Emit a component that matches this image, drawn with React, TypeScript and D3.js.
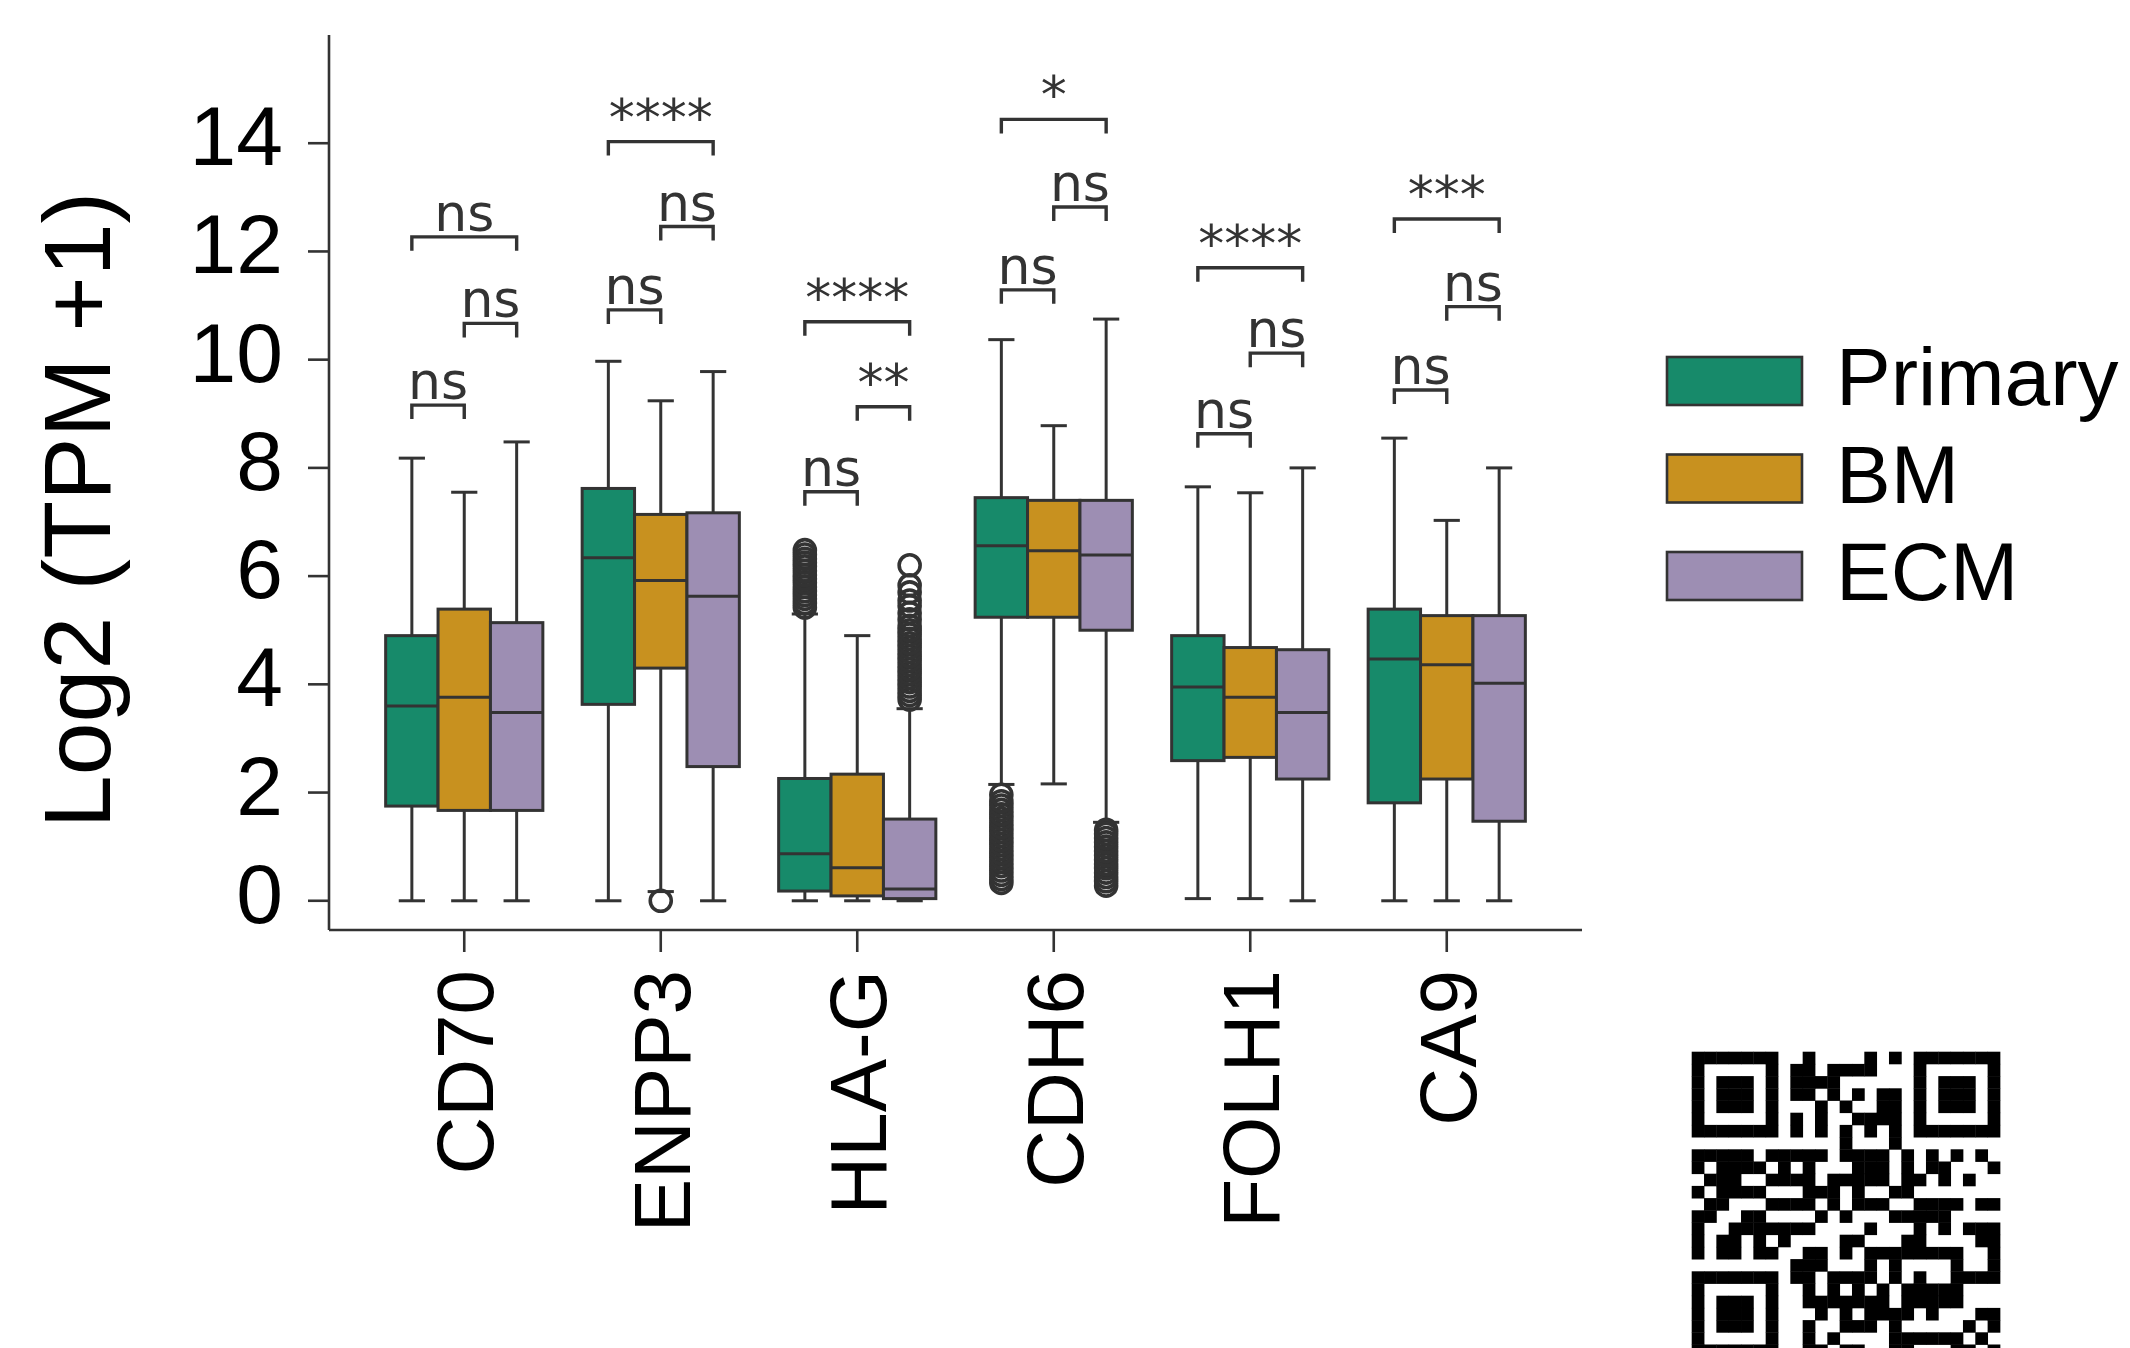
import React from "react";
import * as d3 from "d3";

const categories = ["CD70", "ENPP3", "HLA-G", "CDH6", "FOLH1", "CA9"];
const groups = ["Primary", "BM", "ECM"];
const groupColors = ["#178A6A", "#C8911F", "#9D8EB3"];

// [whisker low, Q1, median, Q3, whisker high] per category
const primaryStats = [
  [0, 1.75, 3.6, 4.9, 8.18],
  [0, 3.63, 6.34, 7.62, 9.97],
  [0, 0.18, 0.87, 2.26, 5.3],
  [2.15, 5.24, 6.56, 7.45, 10.37],
  [0.04, 2.59, 3.95, 4.9, 7.65],
  [0, 1.81, 4.47, 5.39, 8.55],
];
const bmStats = [
  [0, 1.67, 3.76, 5.39, 7.55],
  [0.17, 4.3, 5.92, 7.14, 9.24],
  [0, 0.09, 0.61, 2.34, 4.9],
  [2.16, 5.24, 6.47, 7.4, 8.78],
  [0.04, 2.65, 3.76, 4.68, 7.54],
  [0, 2.25, 4.36, 5.27, 7.03],
];
const ecmStats = [
  [0, 1.67, 3.48, 5.14, 8.48],
  [0, 2.48, 5.63, 7.17, 9.78],
  [0, 0.04, 0.22, 1.51, 3.55],
  [1.45, 5.0, 6.39, 7.4, 10.75],
  [0, 2.25, 3.48, 4.64, 8.0],
  [0, 1.47, 4.02, 5.27, 8.0],
];

// outliers: category, group, values
const outlierEnpp3Bm = [0];
const outlierHlagPrimary = [5.42, 5.5, 5.58, 5.65, 5.72, 5.8, 5.88, 5.95, 6.02, 6.1, 6.18, 6.25, 6.32, 6.4, 6.48];
const outlierHlagEcm = [3.72, 3.8, 3.88, 3.96, 4.04, 4.12, 4.2, 4.28, 4.36, 4.44, 4.52, 4.6, 4.68, 4.76, 4.84, 4.92, 5.0, 5.08, 5.2, 5.32, 5.45, 5.55, 5.7, 5.83, 6.2];
const outlierCdh6Primary = [0.33, 0.4, 0.48, 0.56, 0.64, 0.72, 0.8, 0.88, 0.96, 1.04, 1.12, 1.2, 1.28, 1.36, 1.44, 1.52, 1.6, 1.68, 1.76, 1.84, 1.96];
const outlierCdh6Ecm = [0.28, 0.36, 0.44, 0.52, 0.6, 0.68, 0.76, 0.84, 0.92, 1.0, 1.08, 1.16, 1.24, 1.31];
const outlierSets = [
  { cat: "ENPP3", group: "BM", values: outlierEnpp3Bm },
  { cat: "HLA-G", group: "Primary", values: outlierHlagPrimary },
  { cat: "HLA-G", group: "ECM", values: outlierHlagEcm },
  { cat: "CDH6", group: "Primary", values: outlierCdh6Primary },
  { cat: "CDH6", group: "ECM", values: outlierCdh6Ecm },
];

// significance brackets
const annCats = ["CD70", "CD70", "CD70", "ENPP3", "ENPP3", "ENPP3", "HLA-G", "HLA-G", "HLA-G", "CDH6", "CDH6", "CDH6", "FOLH1", "FOLH1", "FOLH1", "CA9", "CA9", "CA9"];
const annPairs = [
  ["Primary", "BM"], ["BM", "ECM"], ["Primary", "ECM"],
  ["Primary", "BM"], ["BM", "ECM"], ["Primary", "ECM"],
  ["Primary", "BM"], ["BM", "ECM"], ["Primary", "ECM"],
  ["Primary", "BM"], ["BM", "ECM"], ["Primary", "ECM"],
  ["Primary", "BM"], ["BM", "ECM"], ["Primary", "ECM"],
  ["Primary", "BM"], ["BM", "ECM"], ["Primary", "ECM"],
];
const annHeights = [9.16, 10.67, 12.27, 10.92, 12.46, 14.03, 7.56, 9.13, 10.7, 11.29, 12.82, 14.44, 8.63, 10.12, 11.7, 9.44, 10.98, 12.6];
const annLabels = ["ns", "ns", "ns", "ns", "ns", "****", "ns", "**", "****", "ns", "ns", "*", "ns", "ns", "****", "ns", "ns", "***"];

const yTicks = [0, 2, 4, 6, 8, 10, 12, 14];

// decorative QR code (25 x 25 modules, bottom row cut off by the page)
const qrRows = [
  "1111111001000010101111111",
  "1000001011011110001000001",
  "1011101011110000001011101",
  "1011101011010101101011101",
  "1011101000101001101011101",
  "1000001010100111101000001",
  "1111111010101010101111111",
  "0000000000001000100000000",
  "1111101111101111010101010",
  "1011110101000111010110001",
  "0111001111011111011010100",
  "1011110001110100110000000",
  "0110001111010111001111011",
  "1100110000101000111110000",
  "1001111111000010001010111",
  "1011010100001100011000011",
  "1011011001101011111111001",
  "0000000011100010100001001",
  "1111111011011110101001111",
  "1000001001010101011111000",
  "1011101001111111011111000",
  "1011101000101011110100011",
  "1011101001001110100000101",
  "1000001001010000111111010",
  "1111111001101100110001101",
];

const INK = "#333333";
const SANS = "'Liberation Sans', Arial, sans-serif";
const DEJAVU = "'DejaVu Sans', sans-serif";

export default function App() {
  const W = 2130;
  const H = 1348;
  const x = d3.scaleBand<string>().domain(categories).range([366, 1545]).paddingInner(0).paddingOuter(0);
  const bw = x.bandwidth();
  const hue = d3.scaleBand<string>().domain(groups).range([-0.4 * bw, 0.4 * bw]).padding(0);
  const hw = hue.bandwidth();
  const y = d3.scaleLinear().domain([-0.54, 16]).range([930, 35]);
  const statsByGroup = [primaryStats, bmStats, ecmStats];
  const cx = (cat: string, g: string) => (x(cat) as number) + bw / 2 + (hue(g) as number) + hw / 2;

  const qrModW = 12.33;
  const qrModH = 12.2;
  const qrX = d3.scaleLinear().domain([0, 25]).range([1691.7, 1691.7 + 25 * qrModW]);
  const qrY = d3.scaleLinear().domain([0, 25]).range([1051.7, 1051.7 + 25 * qrModH]);

  return (
    <svg width={W} height={H} style={{ position: "absolute", left: 0, top: 0, display: "block", background: "#fff" }}>
      <rect x={0} y={0} width={W} height={H} fill="#fff" />
      {/* boxes */}
      {groups.map((g, gi) =>
        categories.map((cat, ci) => {
          const [lo, q1, med, q3, hi] = statsByGroup[gi][ci];
          const c = cx(cat, g);
          const left = c - hw / 2;
          return (
            <g key={g + cat}>
              <line x1={c} x2={c} y1={y(q3)} y2={y(hi)} stroke={INK} strokeWidth={3} />
              <line x1={c} x2={c} y1={y(q1)} y2={y(lo)} stroke={INK} strokeWidth={3} />
              <line x1={c - hw / 4} x2={c + hw / 4} y1={y(hi)} y2={y(hi)} stroke={INK} strokeWidth={3} />
              <line x1={c - hw / 4} x2={c + hw / 4} y1={y(lo)} y2={y(lo)} stroke={INK} strokeWidth={3} />
              <rect x={left} y={y(q3)} width={hw} height={y(q1) - y(q3)} fill={groupColors[gi]} stroke={INK} strokeWidth={3} />
              <line x1={left} x2={left + hw} y1={y(med)} y2={y(med)} stroke={INK} strokeWidth={3} />
            </g>
          );
        })
      )}
      {/* outliers */}
      {outlierSets.map((s) =>
        s.values.map((v, i) => (
          <circle key={s.cat + s.group + i} cx={cx(s.cat, s.group)} cy={y(v)} r={10.5} fill="none" stroke={INK} strokeWidth={3.6} />
        ))
      )}
      {/* axes */}
      <line x1={329} x2={329} y1={y(16)} y2={y(-0.54)} stroke={INK} strokeWidth={2.6} />
      <line x1={329} x2={1582} y1={y(-0.54)} y2={y(-0.54)} stroke={INK} strokeWidth={2.6} />
      {yTicks.map((t) => (
        <g key={t}>
          <line x1={308} x2={329} y1={y(t)} y2={y(t)} stroke={INK} strokeWidth={2.6} />
          <text x={283} y={y(t) + 22} textAnchor="end" fontFamily={SANS} fontSize={84} fill="#000">
            {t}
          </text>
        </g>
      ))}
      {categories.map((cat) => {
        const c = (x(cat) as number) + bw / 2;
        return (
          <g key={cat}>
            <line x1={c} x2={c} y1={930} y2={952} stroke={INK} strokeWidth={2.6} />
            <text transform={`translate(${c},970) rotate(-90)`} dy={29} textAnchor="end" fontFamily={SANS} fontSize={80} fill="#000">
              {cat}
            </text>
          </g>
        );
      })}
      <text transform="translate(110,510) rotate(-90)" textAnchor="middle" fontFamily={SANS} fontSize={95} fill="#000">
        Log2 (TPM +1)
      </text>
      {/* annotations */}
      {annCats.map((cat, i) => {
        const x1 = cx(cat, annPairs[i][0]);
        const x2 = cx(cat, annPairs[i][1]);
        const yy = y(annHeights[i]);
        return (
          <g key={"ann" + i}>
            <path d={`M${x1},${yy + 14}L${x1},${yy}L${x2},${yy}L${x2},${yy + 14}`} fill="none" stroke={INK} strokeWidth={3.4} />
            <text x={(x1 + x2) / 2} y={yy - 6} textAnchor="middle" fontFamily={DEJAVU} fontSize={52} fill={INK}>
              {annLabels[i]}
            </text>
          </g>
        );
      })}
      {/* legend */}
      {groups.map((g, i) => (
        <g key={"leg" + g} transform={`translate(0,${i * 97.5})`}>
          <rect x={1667} y={357} width={135} height={48} fill={groupColors[i]} stroke={INK} strokeWidth={2.6} />
          <text x={1836} y={405} fontFamily={SANS} fontSize={82} fill="#000">
            {g}
          </text>
        </g>
      ))}
      {/* QR code */}
      {qrRows.map((row, r) =>
        row.split("").map((ch, c) =>
          ch === "1" ? (
            <rect key={`q${r}-${c}`} x={qrX(c)} y={qrY(r)} width={qrModW + 0.4} height={qrModH + 0.4} fill="#000" />
          ) : null
        )
      )}
    </svg>
  );
}
